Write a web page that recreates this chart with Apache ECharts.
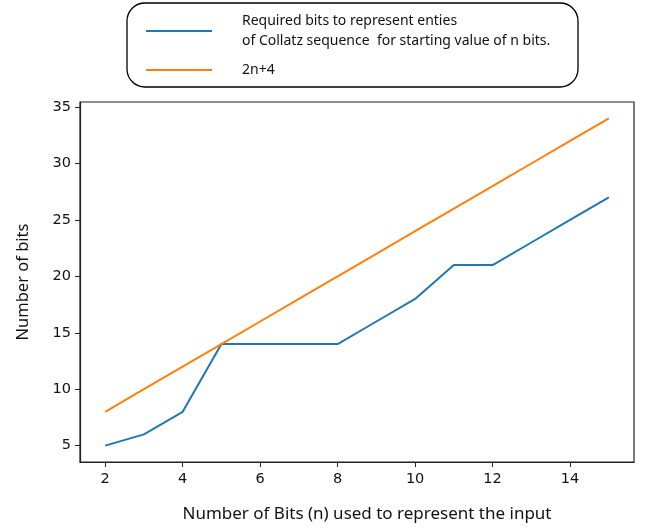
<!DOCTYPE html>
<html>
<head>
<meta charset="utf-8">
<script src="https://cdn.jsdelivr.net/npm/echarts@6/dist/echarts.min.js"></script>
<style>
  html, body { margin: 0; padding: 0; background: #fff; }
  #chart { width: 647px; height: 529px; }
</style>
</head>
<body>
<div id="chart"></div>
<script>
// bits of the starting value
var nBits = [2, 3, 4, 5, 6, 7, 8, 9, 10, 11, 12, 13, 14, 15];
// bits needed for the biggest entry of the collatz sequence
var requiredBits = [5, 6, 8, 14, 14, 14, 14, 16, 18, 21, 21, 23, 25, 27];
// 2n+4 bound
var boundBits = [8, 10, 12, 14, 16, 18, 20, 22, 24, 26, 28, 30, 32, 34];
var xTicks = [2, 4, 6, 8, 10, 12, 14];
var yTicks = [5, 10, 15, 20, 25, 30, 35];

var requiredName = 'Required bits to represent enties\nof Collatz sequence  for starting value of n bits.';
var boundName = '2n+4';

var chart = echarts.init(document.getElementById('chart'));

var option = {
    animation: false,
    textStyle: { fontFamily: 'DejaVu Sans' },
    grid: {
        left: 80, right: 13, top: 102, bottom: 67,
        show: true, borderColor: '#222', borderWidth: 1.2
    },
    graphic: [{
        type: 'rect',
        shape: { x: 127, y: 3, width: 451, height: 84, r: 18 },
        style: { fill: '#fff', stroke: '#000', lineWidth: 1.3 },
        z: 0
    }],
    legend: {
        orient: 'vertical',
        left: 146,
        top: 11,
        padding: 0,
        itemGap: 9,
        itemWidth: 66,
        itemHeight: 2,
        icon: 'rect',
        data: [requiredName, boundName],
        textStyle: {
            fontFamily: 'Noto Sans',
            fontSize: 14,
            lineHeight: 20,
            color: '#111',
            padding: [0, 0, 0, 25]
        }
    },
    xAxis: {
        type: 'value',
        min: 1.35,
        max: 15.65,
        name: 'Number of Bits (n) used to represent the input',
        nameLocation: 'middle',
        nameGap: 44,
        nameTextStyle: { fontFamily: 'Noto Sans', fontSize: 17, color: '#111', padding: [0, 0, 0, 20] },
        splitLine: { show: false },
        axisLine: { lineStyle: { color: '#222', width: 1.2 } },
        axisTick: { customValues: xTicks, length: 5, lineStyle: { color: '#222' } },
        axisLabel: { customValues: xTicks, color: '#111', fontSize: 14.5, margin: 10 }
    },
    yAxis: {
        type: 'value',
        min: 3.55,
        max: 35.45,
        name: 'Number of bits',
        nameLocation: 'middle',
        nameGap: 48,
        nameTextStyle: { fontFamily: 'Noto Sans', fontSize: 16.5, color: '#111' },
        splitLine: { show: false },
        axisLine: { show: true, lineStyle: { color: '#222', width: 1.2 } },
        axisTick: { show: true, customValues: yTicks, length: 5, lineStyle: { color: '#222' } },
        axisLabel: { customValues: yTicks, color: '#111', fontSize: 14.5, margin: 9 }
    },
    series: [
        {
            name: requiredName,
            type: 'line',
            symbol: 'none',
            color: '#1f77b4',
            lineStyle: { width: 2 },
            data: nBits.map(function (n, i) { return [n, requiredBits[i]]; })
        },
        {
            name: boundName,
            type: 'line',
            symbol: 'none',
            color: '#ff7f0e',
            lineStyle: { width: 2 },
            data: nBits.map(function (n, i) { return [n, boundBits[i]]; })
        }
    ]
};

chart.setOption(option);
</script>
</body>
</html>
